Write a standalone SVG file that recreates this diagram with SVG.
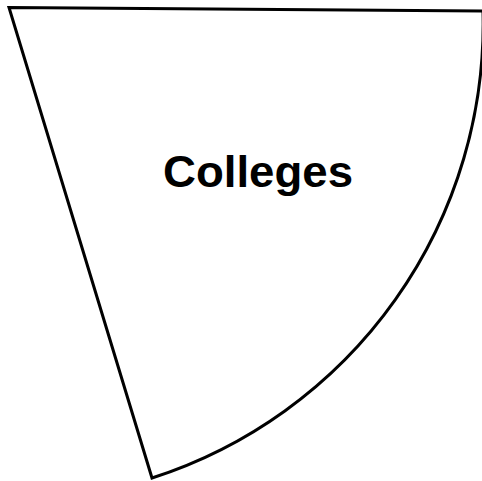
<svg xmlns="http://www.w3.org/2000/svg" width="482" height="481" viewBox="0 0 482 481">
<style>
.slice{fill:#fff;stroke:#000;stroke-width:3;stroke-linejoin:miter}
.lbl{font-family:"Liberation Sans",Arial,sans-serif;font-weight:bold;font-size:44px;fill:#000}
</style>
<rect width="482" height="481" fill="#fff"/>
<g id="colleges">
<path class="slice" d="M9 7.5 L483 11 A477 477 0 0 1 152 478 Z"/>
<text class="lbl" x="163" y="187" textLength="190" lengthAdjust="spacingAndGlyphs">Colleges</text>
</g>
</svg>
